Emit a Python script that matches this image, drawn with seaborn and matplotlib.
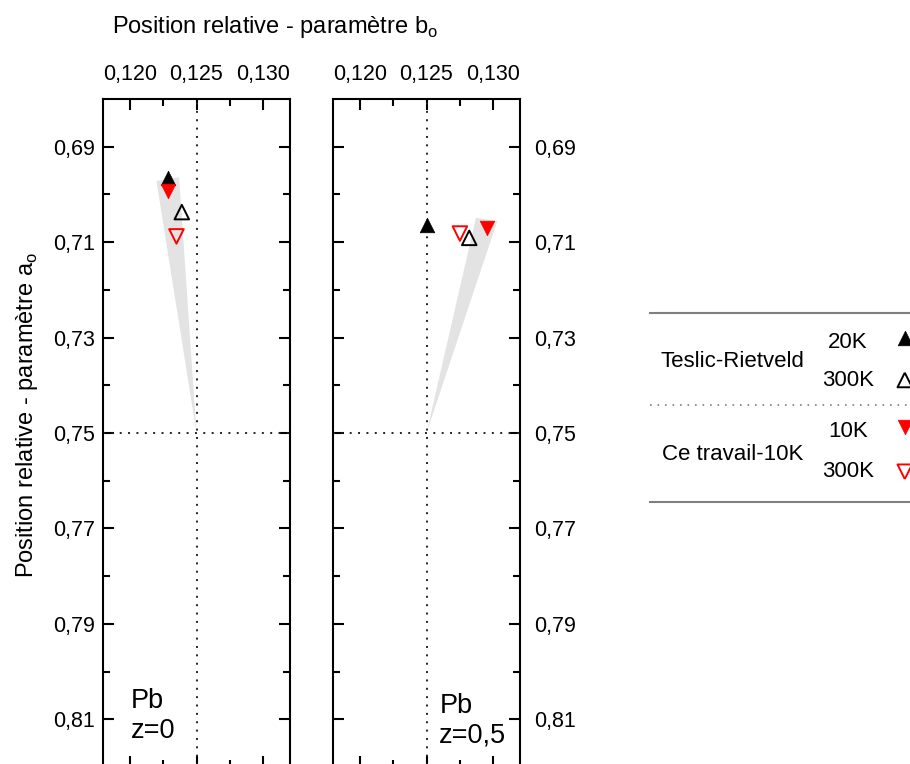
import numpy as np
import pandas as pd
import matplotlib
matplotlib.use("Agg")
import matplotlib.pyplot as plt
from matplotlib.ticker import FuncFormatter, FixedLocator
import seaborn as sns

# Data (b = x, a = y)
series = ["Teslic-Rietveld 20K", "Teslic-Rietveld 300K", "Ce travail 10K", "Ce travail 300K"]
markers = ["^", "^", "v", "v"]
colors = ["black", "black", "red", "red"]
filled = [True, False, True, False]

# panel z=0
b_z0 = [0.1229, 0.1239, 0.1229, 0.1235]
a_z0 = [0.6965, 0.7037, 0.6993, 0.7088]
# panel z=0,5
b_z05 = [0.1250, 0.1282, 0.1295, 0.1275]
a_z05 = [0.7065, 0.7091, 0.7070, 0.7082]

# grey wedges (apex at ideal position)
wedge_b_z0 = [0.1250, 0.1220, 0.1237]
wedge_a_z0 = [0.7500, 0.6972, 0.6964]
wedge_b_z05 = [0.1250, 0.1287, 0.1303]
wedge_a_z05 = [0.7500, 0.7049, 0.7056]

ideal_b = 0.125
ideal_a = 0.75

sns.set_theme(style="ticks")
plt.rcParams['font.family'] = ['Liberation Sans', 'DejaVu Sans']
plt.rcParams['mathtext.fontset'] = 'custom'
plt.rcParams['mathtext.rm'] = 'Liberation Sans'
plt.rcParams['text.color'] = 'black'
plt.rcParams['xtick.color'] = 'black'
plt.rcParams['ytick.color'] = 'black'
plt.rcParams['xtick.labelcolor'] = 'black'
plt.rcParams['ytick.labelcolor'] = 'black'

W, H = 910, 764
fig = plt.figure(figsize=(W / 100, H / 100), dpi=100)


def fx(px):
    return px / W


def fy(py):
    return 1 - py / H


ax_l = fig.add_axes([fx(103), fy(767), fx(187), (767 - 99) / H])
ax_r = fig.add_axes([fx(333), fy(767), fx(187), (767 - 99) / H])

panels = [
    (ax_l, b_z0, a_z0, wedge_b_z0, wedge_a_z0, "z=0", 130.7, 708, 738),
    (ax_r, b_z05, a_z05, wedge_b_z05, wedge_a_z05, "z=0,5", 439.3, 713, 743),
]


def style_marker(coll, i):
    if filled[i]:
        coll.set_facecolor(colors[i])
        coll.set_edgecolor(colors[i])
        coll.set_linewidth(0.5)
    else:
        coll.set_facecolor("none")
        coll.set_edgecolor(colors[i])
        coll.set_linewidth(1.4)


for ax, bs, as_, wb, wa, zlab, tx, ty1, ty2 in panels:
    ax.fill(wb, wa, color="#e3e3e3", lw=0, zorder=1)
    ax.axvline(ideal_b, color="#222222", lw=1.4, ls=(0, (1, 3.3)), zorder=2)
    ax.axhline(ideal_a, color="#222222", lw=1.4, ls=(0, (1, 3.3)), zorder=2)
    df = pd.DataFrame({"b": bs, "a": as_, "serie": series})
    for i, s in enumerate(series):
        sub = df[df["serie"] == s]
        sns.scatterplot(data=sub, x="b", y="a", marker=markers[i], s=110,
                        color=colors[i], ax=ax, zorder=3, legend=False)
        style_marker(ax.collections[-1], i)
    ax.set_xlim(0.118, 0.132)
    ax.set_ylim(0.82, 0.68)
    ax.xaxis.set_major_locator(FixedLocator([0.120, 0.125, 0.130]))
    ax.xaxis.set_minor_locator(FixedLocator([0.1225, 0.1275]))
    ax.yaxis.set_major_locator(FixedLocator([0.69, 0.71, 0.73, 0.75, 0.77, 0.79, 0.81]))
    ax.yaxis.set_minor_locator(FixedLocator([0.70, 0.72, 0.74, 0.76, 0.78, 0.80]))
    ax.xaxis.set_major_formatter(FuncFormatter(lambda v, p: f"{v:.3f}".replace(".", ",")))
    ax.yaxis.set_major_formatter(FuncFormatter(lambda v, p: f"{v:.2f}".replace(".", ",")))
    ax.tick_params(which="both", direction="in", top=True, bottom=True, left=True, right=True,
                   width=1.5, labelsize=15.5, labeltop=True, labelbottom=False, color="black")
    ax.tick_params(which="major", length=8)
    ax.tick_params(which="minor", length=5)
    ax.tick_params(axis="x", pad=10)
    ax.set_xlabel("")
    ax.set_ylabel("")
    for sp in ax.spines.values():
        sp.set_linewidth(1.5)
        sp.set_color("black")
    fig.text(fx(tx), fy(ty1), "Pb", fontsize=19.5, va="baseline", ha="left")
    fig.text(fx(tx), fy(ty2), zlab, fontsize=19.5, va="baseline", ha="left")

ax_l.tick_params(axis="y", labelleft=True, labelright=False, pad=6)
ax_r.tick_params(axis="y", labelleft=False, labelright=True, pad=10)

fig.text(fx(275), fy(33), r"Position relative - paramètre b$_\mathregular{o}$",
         fontsize=17, ha="center", va="baseline")
fig.text(fx(27), fy(415), r"Position relative - paramètre a$_\mathregular{o}$",
         fontsize=17, ha="center", va="center", rotation=90)

# legend table
lax = fig.add_axes([fx(650), fy(501.7), 1 - fx(650), (501.7 - 313.3) / H])
lax.patch.set_alpha(0)
for k in ["left", "right"]:
    lax.spines[k].set_visible(False)
for k in ["top", "bottom"]:
    lax.spines[k].set_color("#7f7f7f")
    lax.spines[k].set_linewidth(1.5)
lax.axhline(0.487, color="#7f7f7f", lw=1.2, ls=(0, (1, 3.5)))

groups = ["Teslic-Rietveld", "Ce travail-10K"]
group_y = [0.257, 0.747]
temps = ["20K", "300K", "10K", "300K"]
temp_y = [0.154, 0.359, 0.628, 0.841]
marker_y = [0.133, 0.354, 0.602, 0.841]
for g, y in zip(groups, group_y):
    lax.text(0.318, y, g, fontsize=16, ha="center", va="center")
for t, y in zip(temps, temp_y):
    lax.text(0.761, y, t, fontsize=16, ha="center", va="center")
leg_df = pd.DataFrame({"x": [0.98] * 4, "y": marker_y, "serie": series})
for i in range(4):
    sub = leg_df[leg_df["serie"] == series[i]]
    sns.scatterplot(data=sub, x="x", y="y", marker=markers[i], s=110,
                    color=colors[i], ax=lax, legend=False, clip_on=False)
    style_marker(lax.collections[-1], i)
lax.set_xlabel("")
lax.set_ylabel("")
lax.set_xticks([])
lax.set_yticks([])
lax.set_xlim(0, 1)
lax.set_ylim(1, 0)

fig.savefig("out.png", dpi=100)
